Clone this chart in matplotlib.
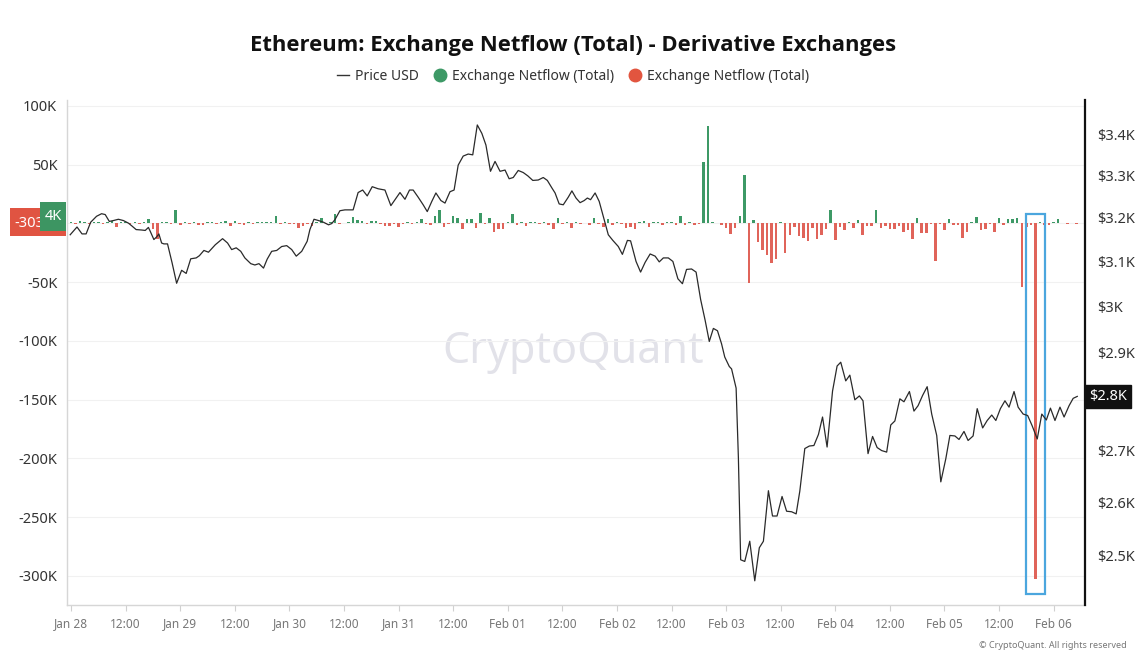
import numpy as np
import pandas as pd
import matplotlib
matplotlib.use("Agg")
import matplotlib.pyplot as plt
import matplotlib.dates as mdates
from matplotlib.patches import Rectangle
from matplotlib.lines import Line2D
from matplotlib.ticker import FixedLocator, NullLocator

plt.rcParams['font.family'] = ['Noto Sans', 'DejaVu Sans']

START = pd.Timestamp("2025-01-28 00:00")

# ETH price (USD), hours after Jan 28 00:00
price_hours = [
    -0.2, 1.3, 2.4, 3.3, 4.3, 5.6, 6.7, 7.5, 8.4, 9.3,
    10.4, 11.5, 12.6, 13.3, 14.3, 15.5, 16.3, 17.0, 17.4, 18.2,
    18.8, 19.3, 19.9, 20.4, 21.2, 22.2, 23.2, 24.3, 25.3, 26.3,
    27.5, 28.2, 29.2, 30.2, 31.7, 33.3, 34.4, 35.3, 36.3, 37.3,
    38.2, 39.5, 40.4, 41.3, 42.3, 43.1, 44.1, 45.2, 46.3, 47.4,
    48.5, 49.5, 50.7, 51.9, 52.5, 53.4, 54.4, 55.5, 56.6, 57.3,
    58.0, 59.1, 60.2, 62.0, 63.1, 64.1, 65.1, 66.2, 67.5, 69.0,
    70.3, 71.2, 72.3, 73.4, 74.4, 75.2, 76.3, 77.4, 78.3, 79.3,
    80.2, 81.3, 82.2, 83.3, 84.2, 85.1, 86.2, 87.3, 88.3, 89.3,
    90.3, 91.2, 92.2, 93.2, 94.3, 95.4, 96.3, 97.2, 98.3, 99.4,
    100.4, 101.5, 102.7, 103.8, 104.7, 105.7, 106.4, 107.3, 108.2, 109.3,
    110.1, 111.0, 111.9, 112.8, 113.5, 114.2, 115.2, 116.1, 117.0, 118.1,
    119.1, 120.3, 121.2, 122.3, 123.0, 124.2, 125.2, 126.2, 127.3, 128.4,
    129.3, 130.2, 131.3, 132.3, 133.4, 134.4, 135.3, 136.4, 137.4, 138.4,
    139.4, 140.3, 141.2, 142.1, 143.0, 143.7, 144.7, 145.2, 146.2, 146.7,
    147.2, 148.1, 149.2, 150.3, 151.3, 152.2, 153.3, 154.2, 155.2, 156.3,
    157.3, 158.4, 159.4, 160.2, 161.3, 162.3, 163.3, 164.3, 165.2, 166.2,
    167.4, 168.4, 169.2, 170.3, 171.2, 172.3, 173.3, 174.1, 175.2, 176.2,
    177.2, 178.2, 179.3, 180.2, 181.1, 182.2, 183.1, 184.3, 185.3, 186.2,
    187.2, 188.2, 189.2, 190.3, 191.2, 192.3, 193.2, 194.3, 195.2, 196.3,
    197.2, 198.3, 199.2, 200.4, 201.4, 202.4, 203.3, 204.3, 205.3, 206.2,
    207.3, 208.2, 209.3, 210.3, 211.3, 212.4, 213.4, 214.4, 215.3, 216.3,
    217.4, 218.3, 219.4, 220.3, 221.2,
]
price_usd = [
    3161, 3179, 3163, 3163, 3190, 3204, 3210, 3208, 3192, 3194,
    3197, 3194, 3188, 3182, 3173, 3172, 3171, 3178, 3169, 3150,
    3156, 3163, 3142, 3140, 3140, 3097, 3051, 3080, 3073, 3106,
    3108, 3113, 3125, 3121, 3138, 3152, 3142, 3127, 3131, 3123,
    3108, 3095, 3092, 3095, 3085, 3105, 3123, 3125, 3134, 3136,
    3127, 3112, 3123, 3146, 3173, 3197, 3194, 3190, 3184, 3187,
    3196, 3217, 3219, 3219, 3260, 3266, 3252, 3274, 3269, 3266,
    3229, 3243, 3260, 3244, 3266, 3266, 3249, 3231, 3215, 3239,
    3259, 3241, 3235, 3262, 3266, 3326, 3348, 3353, 3351, 3425,
    3404, 3375, 3311, 3335, 3311, 3314, 3293, 3296, 3313, 3308,
    3300, 3289, 3290, 3296, 3289, 3271, 3259, 3233, 3231, 3249,
    3264, 3247, 3236, 3241, 3247, 3243, 3259, 3239, 3204, 3161,
    3148, 3134, 3116, 3148, 3147, 3100, 3076, 3098, 3117, 3112,
    3099, 3108, 3108, 3100, 3061, 3050, 3082, 3083, 3076, 3015,
    2969, 2924, 2952, 2947, 2919, 2891, 2871, 2866, 2826, 2686,
    2493, 2490, 2527, 2455, 2515, 2527, 2622, 2574, 2574, 2611,
    2583, 2582, 2578, 2621, 2704, 2709, 2710, 2732, 2767, 2707,
    2820, 2872, 2880, 2841, 2853, 2802, 2810, 2800, 2694, 2728,
    2706, 2700, 2697, 2751, 2759, 2804, 2798, 2819, 2779, 2790,
    2811, 2829, 2773, 2730, 2639, 2684, 2730, 2729, 2722, 2738,
    2720, 2729, 2784, 2745, 2760, 2771, 2760, 2784, 2800, 2787,
    2819, 2787, 2773, 2770, 2749, 2723, 2773, 2761, 2785, 2760,
    2787, 2767, 2790, 2805, 2809,
]

# hourly exchange netflow (thousands), one value per hour from Jan 28 00:00
netflow_k = [
    0.8, -0.8, 2, 1.5, -0.8, 0.8, 1.5, -0.8, 0.8, 2,
    -3, 0.8, 1.5, -0.8, 0.8, -0.8, 0.8, 3.5, -4.5, -13,
    0.8, 1.5, -0.8, 11, -1.5, 0.8, -0.8, 0.8, -1.5, -1.5,
    0.8, 1, -0.8, 0.8, 2, -2.5, 2, -0.8, -1.5, 1.5,
    -0.8, 1, 1, 1.5, 1.5, 6.5, -0.8, 1.5, -0.8, -0.8,
    -3.5, -2, -0.8, -2, 1.5, 4.5, -0.8, 1, 8, -0.8,
    0.5, 0.8, 5.5, 2.5, 2, -0.8, 2, 2, -0.8, -2,
    -2.5, -0.8, -3, -0.8, 0.8, -0.8, 0.8, 3.5, -0.8, -1.5,
    6, 11, -3, -0.8, 6.5, 4.5, -4.5, 3.5, 3.5, -4,
    9, -0.8, 5, -7, -4.5, -4.5, 0.8, 8, -1.5, 0.8,
    -2, 0.8, 1.5, -0.8, 0.8, -1.5, -4.5, 4.5, -0.8, 0.8,
    -4, 1.5, -0.8, 0.5, -1.5, 4.5, -0.8, -3, 3.5, -1.5,
    1.5, -0.8, -3.5, -3, -4.5, 0.8, 2, -3, 0.8, 1.5,
    -1.5, 0.8, 1.5, -1.5, 6.5, -1.5, 1.5, -1.5, -0.5, 52,
    83, 1, 0.5, -1.5, -4, -9, -3.5, 6, 41, -51,
    3, -16, -23, -27, -34, -30, 0.8, -25, -10, -3,
    -11, -12, -15, -4, -13, -10, -5, 11, -14, -3,
    -6, 0.8, -3.5, 3, -9.5, -2, -2, 11, -3.5, -2,
    -4.5, -5, -2, -7, -6, -13, 4.5, -8.5, -8, -0.8,
    -32, -0.8, -6, 3.5, -1.5, -1.5, -12, -7, 1.5, 5.5,
    -6, -4.5, -0.8, -7, 4.5, -1.5, 3.5, 3.5, 4.5, -54,
    -3, -1.5, -303, 1.5, -1.5, -1.5, 1.5, 3.5, 0.5, -0.5,
    0.5, -0.5,
]

left_ticks = [-300, -250, -200, -150, -100, -50, 0, 50, 100]
right_ticks = [2500, 2600, 2700, 2800, 2900, 3000, 3100, 3200, 3300, 3400]

GREEN = '#3d9966'
RED = '#e0645a'

W, H = 1146, 666
fig = plt.figure(figsize=(W / 100, H / 100), dpi=100)
ax = fig.add_axes([67 / W, 1 - 605 / H, (1085 - 67) / W, (605 - 100) / H])

bar_t = mdates.date2num(START + pd.to_timedelta(np.arange(len(netflow_k)), unit='h'))
price_t = mdates.date2num(START + pd.to_timedelta(price_hours, unit='h'))
flows = np.array(netflow_k)

ax.bar(bar_t, flows, width=0.55 / 24, color=[GREEN if v >= 0 else RED for v in flows],
       linewidth=0, zorder=2)

# highlight box around the big outflow
i_min = int(np.argmin(flows))
hw = 2.05 / 24
ax.add_patch(Rectangle((bar_t[i_min] - hw, flows[i_min] - 12), 2 * hw, 8 - (flows[i_min] - 12),
                       fill=False, ec='#4ba6de', lw=1.6, zorder=4))

ax.set_ylim(-324.7, 105)
ax.set_yticks(left_ticks)
# the 0 label sits under the value badges, so leave it blank
ax.set_yticklabels([f"{v}K" if v else "" for v in left_ticks])
ax.grid(axis='y', color='#f1f1f1', lw=0.8)
ax.set_axisbelow(True)

ax.set_xlim(mdates.date2num(START - pd.Timedelta(hours=0.9)),
            mdates.date2num(START + pd.Timedelta(hours=222.9)))
ticks = [START + pd.Timedelta(hours=12 * i) for i in range(19)]
ax.set_xticks(mdates.date2num(ticks))
ax.set_xticklabels([t.strftime('%b %d') if t.hour == 0 else '12:00' for t in ticks])

ax.tick_params(axis='y', length=0, pad=7, labelsize=10.5, labelcolor='#333333')
ax.tick_params(axis='x', length=4, width=0.8, color='#d0d0d0', pad=5,
               labelsize=8.5, labelcolor='#777777')
for s in ['top', 'right']:
    ax.spines[s].set_visible(False)
for s in ['left', 'bottom']:
    ax.spines[s].set_color('#d6d6d6')
    ax.spines[s].set_linewidth(1)

ax.text(0.5, 1 - 352 / H, "CryptoQuant", transform=fig.transFigure, ha='center',
        va='center', fontsize=31, color='#e2e2e9', zorder=0)

ax2 = ax.twinx()
ax2.plot(price_t, price_usd, color='#2a2a2a', lw=0.9, zorder=3)
ax2.set_yscale('log')
ax2.set_ylim(2412, 3488)
ax2.yaxis.set_major_locator(FixedLocator(right_ticks))
ax2.yaxis.set_minor_locator(NullLocator())
last_k = round(price_usd[-1] / 100) * 100
# the last-price badge covers its own tick, so that label stays blank
ax2.set_yticklabels(["" if v == last_k else f"\\${v / 1000:g}K" for v in right_ticks])
ax2.tick_params(axis='y', length=0, pad=9, labelsize=10.5, labelcolor='#333333')
for s in ['top', 'left', 'bottom']:
    ax2.spines[s].set_visible(False)
ax2.spines['right'].set_color('#111111')
ax2.spines['right'].set_linewidth(1.6)

# last price badge
ax2.annotate(f"\\${price_usd[-1] / 1000:.1f}K", xy=(1.0, price_usd[-1]),
             xycoords=('axes fraction', 'data'), xytext=(3, 0), textcoords='offset points',
             ha='left', va='center', fontsize=10.5, color='white',
             bbox=dict(boxstyle='square,pad=0.3', fc='#111111', ec='#111111'),
             annotation_clip=False, zorder=10)

# left value badges (green one sits on top of the red one)
red_box = Rectangle((10 / W, 1 - 236 / H), 56 / W, 28 / H, transform=fig.transFigure,
                    fc='#e05442', ec='none', zorder=20)
fig.add_artist(red_box)
green_box = Rectangle((40 / W, 1 - 231 / H), 26 / W, 29 / H, transform=fig.transFigure,
                      fc='#3d9562', ec='none', zorder=22)
fig.add_artist(green_box)
red_txt = fig.text(14 / W, 1 - 223 / H, f"{flows[i_min]:.0f}K", ha='left', va='center',
                   fontsize=10.5, color='white', zorder=21)
# only the part of the red label left of the green badge shows
clip = Rectangle((10 / W, 1 - 236 / H), 30 / W, 28 / H, transform=fig.transFigure)
red_txt.set_clip_path(clip)
fig.text(53 / W, 1 - 217 / H, "4K", ha='center', va='center',
         fontsize=10.5, color='white', zorder=23)

fig.text(0.5, 1 - 46 / H, "Ethereum: Exchange Netflow (Total) - Derivative Exchanges",
         ha='center', va='center', fontsize=15.8, fontweight='bold', color='#111111',
         family=['Open Sans', 'DejaVu Sans'])

handles = [Line2D([], [], color='#333333', lw=1),
           Line2D([], [], marker='o', ls='', color=GREEN, markersize=9),
           Line2D([], [], marker='o', ls='', color='#e2553f', markersize=9)]
fig.legend(handles, ["Price USD", "Exchange Netflow (Total)", "Exchange Netflow (Total)"],
           loc='center', bbox_to_anchor=(0.5, 1 - 76 / H), ncol=3, frameon=False,
           fontsize=10, handlelength=0.9, handletextpad=0.4, columnspacing=1.1,
           labelcolor='#333333')

fig.text(1127 / W, 1 - 645 / H, "© CryptoQuant. All rights reserved", ha='right',
         va='center', fontsize=6.5, color='#777777')

fig.savefig("out.png", dpi=100)
